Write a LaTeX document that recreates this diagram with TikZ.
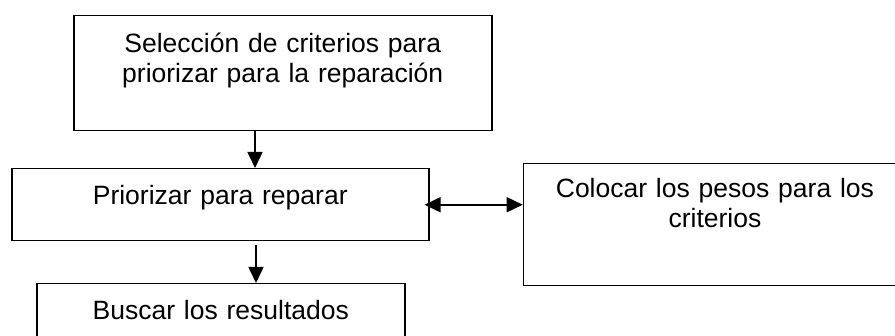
\documentclass[tikz,border=0pt]{standalone}
\usepackage{fontspec}
\setmainfont{Liberation Sans}
\usetikzlibrary{arrows.meta}
\begin{document}
\begin{tikzpicture}[x=1pt,y=-1pt,
 box/.style={draw, line width=1.5pt, inner sep=0pt, anchor=north west, align=center, font=\fontsize{26.5}{30}\selectfont},
 arr/.style={line width=1.6pt, -{Triangle[length=16pt,width=15pt]}},
 darr/.style={line width=1.6pt, {Triangle[length=16pt,width=15pt]}-{Triangle[length=16pt,width=15pt]}}]
\fill[white] (0,0) rectangle (895,336);
\useasboundingbox (0,0) rectangle (895,336);
\node[box, text width=418pt, text height=36.7pt, text depth=78.3pt] (sel) at (73,15) {Selección de criterios para\\priorizar para la reparación};
\node[box, text width=417pt, text height=36pt, text depth=36pt] (pri) at (11,168) {Priorizar para reparar};
\node[box, text width=383pt, text height=34pt, text depth=88pt] (col) at (522.7,163) {Colocar los pesos para los\\criterios};
\node[box, text width=368pt, text height=36pt, text depth=50pt] (bus) at (36,283) {Buscar los resultados};
\coordinate (a1) at (255,0);
\coordinate (a2) at (256,0);
\draw[arr] (sel.south -| a1) -- (pri.north -| a1);
\draw[arr] ([yshift=-4pt]pri.south -| a2) -- (bus.north -| a2);
\draw[darr] ([xshift=-5pt]pri.east) -- (col.west |- pri.east);
\end{tikzpicture}
\end{document}
